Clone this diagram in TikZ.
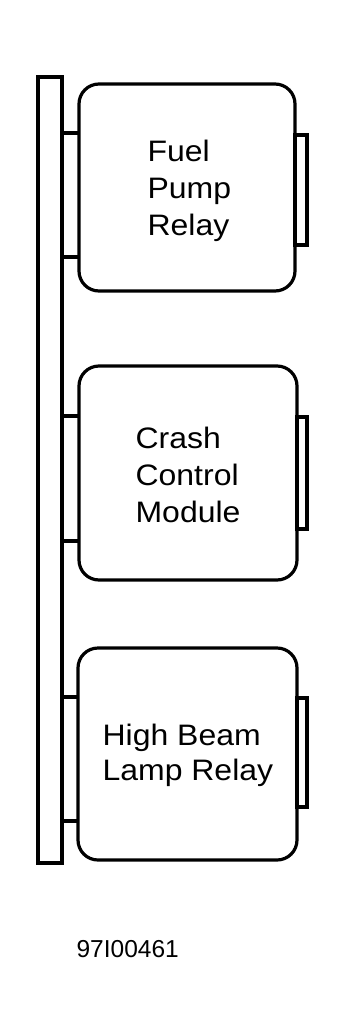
\documentclass[tikz,border=0pt]{standalone}
\usepackage{fontspec}
\setmainfont{Liberation Sans}
\newfontfamily\labfont[FakeStretch=1.08]{Liberation Sans}
\begin{document}
\begin{tikzpicture}[x=1pt,y=-1pt,
  every path/.style={line width=3.2pt},
  modbox/.style={draw,rounded corners=20pt,line join=round},
  tabbox/.style={draw},
  barbox/.style={draw},
  lab/.style={anchor=north west,inner sep=0pt,align=left,font=\labfont\fontsize{29.6}{37}\selectfont},
  captext/.style={anchor=base west,inner sep=0pt,font=\fontsize{24.5}{28}\selectfont}]
\useasboundingbox (0,0) rectangle (346,1031);
% bar
\draw[barbox] (38,77) rectangle (62,863);
% boxes
\draw[modbox] (79,84) rectangle (295,291);
\draw[modbox] (79,366) rectangle (297,580);
\draw[modbox] (78,648) rectangle (297,860);
% right tabs
\draw[tabbox] (295,135) rectangle (307,245);
\draw[tabbox] (297,417) rectangle (307,529);
\draw[tabbox] (297,698) rectangle (307,807);
% stubs
\draw (62,133) -- (79,133);
\draw (62,257) -- (79,257);
\draw (62,416) -- (79,416);
\draw (62,541) -- (79,541);
\draw (62,697) -- (78,697);
\draw (62,821) -- (78,821);
% labels
\node[lab] (t1) at (146,138) {Fuel\\Pump\\Relay};
\node[lab] (t2) at (134,425) {Crash\\Control\\Module};
\node[lab,font=\labfont\fontsize{29.6}{35}\selectfont] (t3) at (101,722) {High Beam\\Lamp Relay};
\node[captext] (c) at (75,957) {97I00461};
\end{tikzpicture}
\end{document}
